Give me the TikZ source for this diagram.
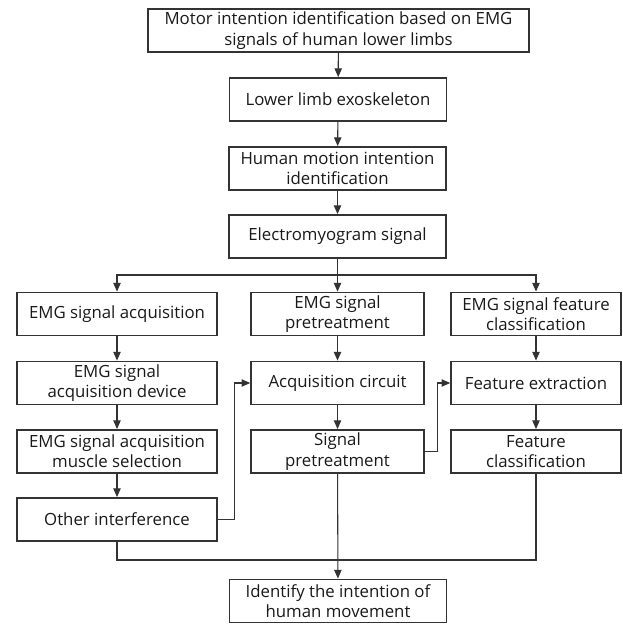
\documentclass[tikz,border=0pt]{standalone}
\usepackage{fontspec}
\setmainfont{Open Sans}
\usetikzlibrary{arrows.meta}

\tikzset{
  box/.style={draw=black!80, line width=1.15pt, align=center, inner sep=0pt,
    minimum height=32.5pt, font=\fontsize{12.6}{15.2}\selectfont, text=black!90},
  wide/.style={box, minimum width=285.75pt},
  midbox/.style={box, minimum width=162.75pt},
  colbox/.style={box, minimum width=150pt},
  arr/.style={draw=black!80, line width=0.8pt, -{Triangle[length=6.5pt,width=5.5pt]}},
  lin/.style={draw=black!80, line width=0.8pt}
}

\begin{document}
\begin{tikzpicture}[x=0.75pt, y=-0.75pt]
  \useasboundingbox (0,0) rectangle (622,624);

  % main chain
  \node[wide] (top) at (338.5,30.5) {Motor intention identification based on EMG\\signals of human lower limbs};
  \node[midbox] (exo) at (338,99.5) {Lower limb exoskeleton};
  \node[midbox] (hmi) at (337.5,168.5) {Human motion intention\\identification};
  \node[midbox] (emg) at (337.5,236.5) {Electromyogram signal};

  % left column
  \node[colbox] (acq) at (117,314) {EMG signal acquisition};
  \node[colbox] (dev) at (117,383) {EMG signal\\acquisition device};
  \node[colbox] (mus) at (117,451.5) {EMG signal acquisition\\muscle selection};
  \node[colbox] (oth) at (117,519.5) {Other interference};

  % middle column
  \node[box, minimum width=129.75pt] (pre) at (337.5,314) {EMG signal\\pretreatment};
  \node[box, minimum width=129.75pt] (circ) at (337.5,383) {Acquisition circuit};
  \node[box, minimum width=129.75pt] (spre) at (337.5,451.5) {Signal\\pretreatment};

  % right column
  \node[box, minimum width=127.5pt] (fcl) at (536,314) {EMG signal feature\\classification};
  \node[box, minimum width=127.5pt] (fex) at (536,383) {Feature extraction};
  \node[box, minimum width=127.5pt] (fcls) at (536,451.5) {Feature\\classification};

  \node[midbox] (idn) at (338,601) {Identify the intention of\\human movement};

  \coordinate (split) at (337.5,275);
  \coordinate (merge) at (337.5,560);

  \draw[arr] (top) -- (exo);
  \draw[arr] (exo) -- (hmi);
  \draw[arr] (hmi) -- (emg);
  \draw[arr] (emg) -- (pre);
  \draw[arr] (split) -| (acq);
  \draw[arr] (split) -| (fcl);

  \draw[arr] (acq) -- (dev);
  \draw[arr] (dev) -- (mus);
  \draw[arr] (mus) -- (oth);
  \draw[arr] (pre) -- (circ);
  \draw[arr] (circ) -- (spre);
  \draw[arr] (fcl) -- (fex);
  \draw[arr] (fex) -- (fcls);

  % feedback lines
  \draw[arr] (oth.east) -- ++(17,0) |- (circ.west);
  \draw[arr] (spre.east) -- ++(13,0) |- (fex.west);

  % to result
  \draw[arr] (spre) -- (idn);
  \draw[lin] (oth.south) |- (merge) -| (fcls.south);
\end{tikzpicture}
\end{document}
